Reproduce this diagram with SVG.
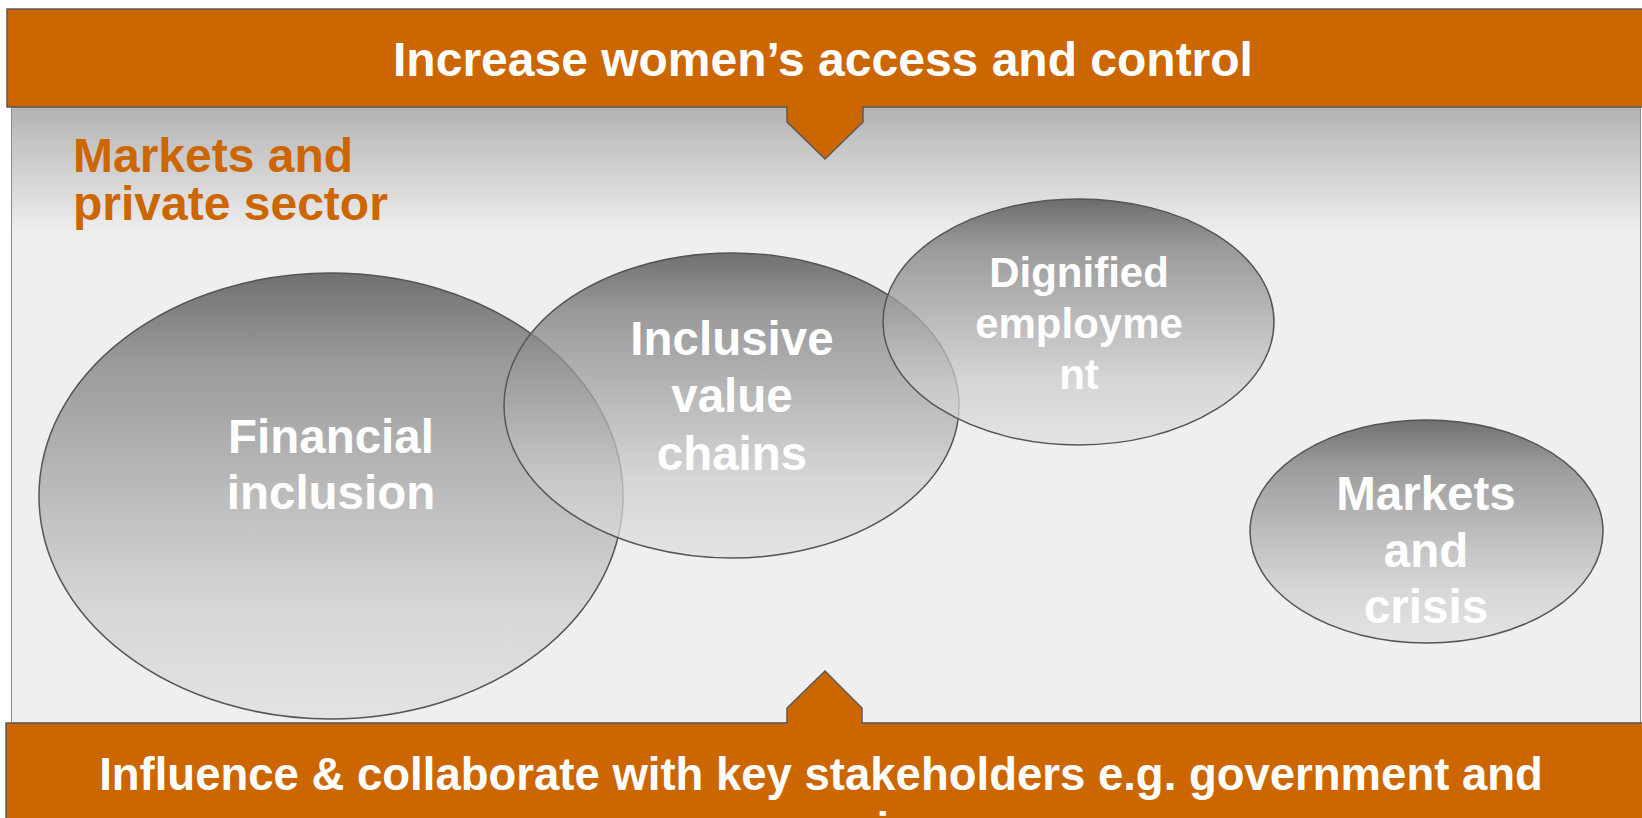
<svg xmlns="http://www.w3.org/2000/svg" width="1642" height="818" viewBox="0 0 1642 818">
  <style>
    .banner { fill: #CC6600; stroke: #595959; stroke-width: 1.5; }
    .btext { font-family: "Liberation Sans", Arial, sans-serif; font-weight: bold; font-size: 45.5px; fill: #FFFFFF; text-anchor: middle; }
    .ttext { font-family: "Liberation Sans", Arial, sans-serif; font-weight: bold; font-size: 48px; fill: #FFFFFF; text-anchor: middle; }
    .etext { font-family: "Liberation Sans", Arial, sans-serif; font-weight: bold; font-size: 47.5px; fill: #FFFFFF; text-anchor: middle; }
    .title { font-family: "Liberation Sans", Arial, sans-serif; font-weight: bold; font-size: 48px; fill: #CC6600; }
    .oval { fill: url(#ovalGrad); stroke: #555555; stroke-width: 1.5; }
  </style>
  <defs>
    <linearGradient id="panelGrad" gradientUnits="userSpaceOnUse" x1="0" y1="107" x2="0" y2="235">
      <stop offset="0" stop-color="#b3b3b3"/>
      <stop offset="1" stop-color="#efefef"/>
    </linearGradient>
    <linearGradient id="ovalGrad" x1="0" y1="0" x2="0" y2="1">
      <stop offset="0" stop-color="#464646" stop-opacity="0.75"/>
      <stop offset="0.2" stop-color="#7e7e7e" stop-opacity="0.75"/>
      <stop offset="0.5" stop-color="#ababab" stop-opacity="0.75"/>
      <stop offset="0.75" stop-color="#cecece" stop-opacity="0.75"/>
      <stop offset="1" stop-color="#dfdfdf" stop-opacity="0.75"/>
    </linearGradient>
  </defs>

  <rect x="0" y="0" width="1642" height="818" fill="#FFFFFF"/>

  <g id="panel">
    <rect x="11.5" y="107" width="1629" height="616" fill="url(#panelGrad)" stroke="#8c8c8c" stroke-width="1"/>
    <text class="title" x="73" y="172">Markets and</text>
    <text class="title" x="73" y="220">private sector</text>
  </g>

  <g id="node-financial-inclusion">
    <ellipse class="oval" cx="331" cy="496" rx="292" ry="223"/>
    <text class="etext" x="331" y="453">Financial</text>
    <text class="etext" x="331" y="509">inclusion</text>
  </g>

  <g id="node-inclusive-value-chains">
    <ellipse class="oval" cx="731.5" cy="405.5" rx="227.5" ry="152.5"/>
    <text class="etext" x="732" y="355">Inclusive</text>
    <text class="etext" x="732" y="412">value</text>
    <text class="etext" x="732" y="470">chains</text>
  </g>

  <g id="node-dignified-employment">
    <ellipse class="oval" cx="1078.5" cy="322" rx="195.5" ry="123"/>
    <text class="etext" x="1079" y="287" style="font-size:42px">Dignified</text>
    <text class="etext" x="1079" y="338" style="font-size:42px">employme</text>
    <text class="etext" x="1079" y="389" style="font-size:42px">nt</text>
  </g>

  <g id="node-markets-and-crisis">
    <ellipse class="oval" cx="1426.5" cy="531.5" rx="176.5" ry="111.5"/>
    <text class="etext" x="1426" y="510">Markets</text>
    <text class="etext" x="1426" y="567">and</text>
    <text class="etext" x="1426" y="623">crisis</text>
  </g>

  <g id="node-bottom-banner">
    <path class="banner" d="M6,723 L787,723 L787,708 L825,671 L862,708 L862,723 L1650,723 L1650,830 L6,830 Z"/>
    <text class="btext" x="821" y="790">Influence &amp; collaborate with key stakeholders e.g. government and</text>
    <text class="btext" x="821" y="845">companies</text>
  </g>

  <g id="node-top-banner">
    <path class="banner" d="M7,9 L1650,9 L1650,107 L863,107 L863,122 L825,159 L787,122 L787,107 L7,107 Z"/>
    <text class="ttext" x="823" y="76">Increase women’s access and control</text>
  </g>

  <g id="connectors"/>
</svg>
